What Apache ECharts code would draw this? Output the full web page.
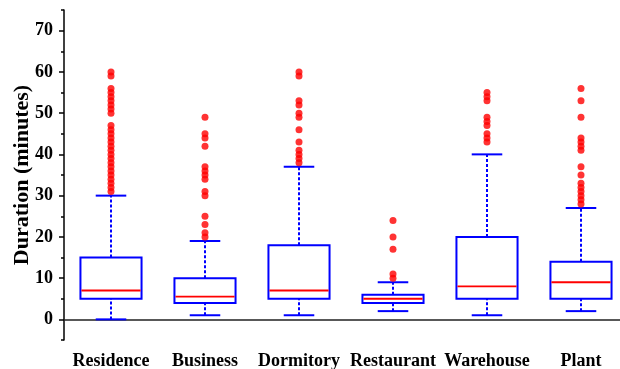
<!DOCTYPE html>
<html>
<head>
<meta charset="utf-8">
<script src="https://cdn.jsdelivr.net/npm/echarts@6/dist/echarts.min.js"></script>
<style>
  html, body { margin: 0; padding: 0; background: #fff; }
  #chart { width: 620px; height: 369px; }
</style>
</head>
<body>
<div id="chart"></div>
<script>
// Trip duration by destination type (minutes)
const categories = ['Residence', 'Business', 'Dormitory', 'Restaurant', 'Warehouse', 'Plant'];

// Box statistics per category
const whiskerLow  = [0, 1, 1, 2, 1, 2];
const quartile1   = [5, 4, 5, 4, 5, 5];
const medians     = [7, 5.5, 7, 5, 8, 9];
const quartile3   = [15, 10, 18, 6, 20, 14];
const whiskerHigh = [30, 19, 37, 9, 40, 27];

// Outlying observations per category
const outResidence  = [31, 32, 33, 34, 35, 36, 37, 38, 39, 40, 41, 42, 43, 44, 45, 46, 47,
                       50, 51, 52, 53, 54, 55, 56, 59, 60];
const outBusiness   = [20, 21, 23, 25, 30, 31, 34, 35, 36, 37, 42, 44, 45, 49];
const outDormitory  = [38, 39, 40, 41, 43, 46, 49, 50, 52, 53, 59, 60];
const outRestaurant = [10, 11, 17, 20, 24];
const outWarehouse  = [43, 44, 45, 47, 48, 49, 53, 54, 55];
const outPlant      = [28, 29, 30, 31, 32, 33, 35, 37, 41, 42, 43, 44, 49, 53, 56];

// Y axis ticks
const yMajorTicks = [0, 10, 20, 30, 40, 50, 60, 70];
const yMinorTicks = [-5, 5, 15, 25, 35, 45, 55, 65, 75];

const outlierGroups = [outResidence, outBusiness, outDormitory, outRestaurant, outWarehouse, outPlant];

const boxData = categories.map((c, i) =>
  [i, whiskerLow[i], quartile1[i], medians[i], quartile3[i], whiskerHigh[i]]);

const outlierData = [];
outlierGroups.forEach((arr, i) => arr.forEach(v => outlierData.push([i, v])));

const BLUE = '#0000ff';
const RED = '#ff0000';
const FONT = '"Liberation Serif", "Times New Roman", serif';

function renderBox(params, api) {
  const idx = api.value(0);
  const pLow = api.coord([idx, api.value(1)]);
  const pQ1 = api.coord([idx, api.value(2)]);
  const pMed = api.coord([idx, api.value(3)]);
  const pQ3 = api.coord([idx, api.value(4)]);
  const pHigh = api.coord([idx, api.value(5)]);
  const w = api.size([1, 0])[0] * 0.65;
  const x = pLow[0];
  const dotted = { stroke: BLUE, lineWidth: 2, lineDash: [3, 2], lineCap: 'butt' };
  const solid = { stroke: BLUE, lineWidth: 2 };
  return {
    type: 'group',
    children: [
      { type: 'line', shape: { x1: x, y1: pLow[1], x2: x, y2: pQ1[1] }, style: dotted },
      { type: 'line', shape: { x1: x, y1: pQ3[1], x2: x, y2: pHigh[1] }, style: dotted },
      { type: 'line', shape: { x1: x - w / 4, y1: pLow[1], x2: x + w / 4, y2: pLow[1] }, style: solid },
      { type: 'line', shape: { x1: x - w / 4, y1: pHigh[1], x2: x + w / 4, y2: pHigh[1] }, style: solid },
      { type: 'rect', shape: { x: x - w / 2, y: pQ3[1], width: w, height: pQ1[1] - pQ3[1] },
        style: { fill: '#fff', stroke: BLUE, lineWidth: 2 } },
      { type: 'line', shape: { x1: x - w / 2 + 1, y1: pMed[1], x2: x + w / 2 - 1, y2: pMed[1] },
        style: { stroke: RED, lineWidth: 1.8 } }
    ]
  };
}

const chart = echarts.init(document.getElementById('chart'), null, { renderer: 'canvas' });
chart.setOption({
  animation: false,
  backgroundColor: '#fff',
  grid: { left: 64, top: 10, width: 564, height: 330, containLabel: false, outerBoundsMode: 'none' },
  xAxis: {
    type: 'category',
    data: categories,
    boundaryGap: true,
    axisLine: { lineStyle: { color: '#222', width: 1.5 } },
    axisTick: { alignWithLabel: true, length: 5, lineStyle: { color: '#222', width: 1.5 } },
    axisLabel: { color: '#000', fontFamily: FONT, fontWeight: 'bold', fontSize: 18, margin: 12, interval: 0 },
    splitLine: { show: false }
  },
  yAxis: [
    {
      type: 'value',
      min: -5,
      max: 75,
      name: 'Duration (minutes)',
      nameLocation: 'middle',
      nameGap: 31,
      nameMoveOverlap: false,
      nameTextStyle: { color: '#000', fontFamily: FONT, fontWeight: 'bold', fontSize: 22 },
      axisLine: { show: true, lineStyle: { color: '#000', width: 1.5 } },
      axisTick: { show: true, length: 5, customValues: yMajorTicks, lineStyle: { color: '#000', width: 1.5 } },
      axisLabel: { color: '#000', fontFamily: FONT, fontWeight: 'bold', fontSize: 18, margin: 11,
                   customValues: yMajorTicks },
      splitLine: { show: false }
    },
    {
      type: 'value',
      min: -5,
      max: 75,
      position: 'left',
      axisLine: { show: false },
      axisTick: { show: true, length: 3, customValues: yMinorTicks, lineStyle: { color: '#000', width: 1.5 } },
      axisLabel: { show: false },
      splitLine: { show: false }
    }
  ],
  series: [
    {
      type: 'custom',
      renderItem: renderBox,
      data: boxData,
      encode: { x: 0, y: [1, 2, 3, 4, 5] },
      z: 2
    },
    {
      type: 'scatter',
      data: outlierData,
      symbol: 'circle',
      symbolSize: 7,
      itemStyle: { color: RED },
      z: 3
    }
  ]
});
</script>
</body>
</html>
